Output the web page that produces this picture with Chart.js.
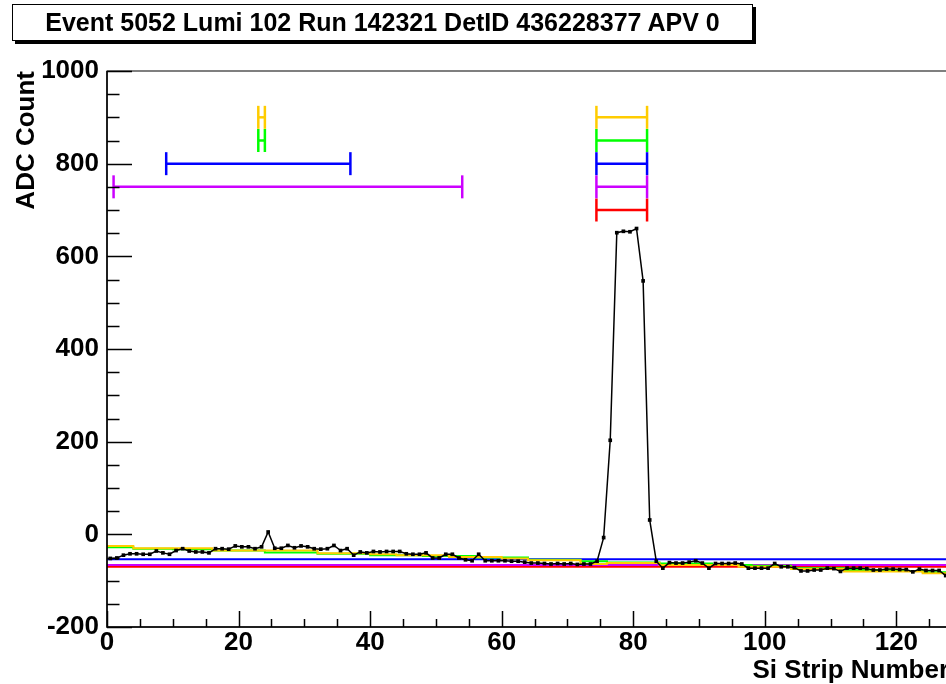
<!DOCTYPE html>
<html>
<head>
<meta charset="utf-8">
<script src="https://cdn.jsdelivr.net/npm/chart.js@4.4.1/dist/chart.umd.min.js"></script>
<style>
  html, body { margin: 0; padding: 0; background: #fff; overflow: hidden; }
  #wrap { position: relative; width: 960px; height: 684px; }
  #title {
    position: absolute; left: 12px; top: 4px; width: 739px; height: 35px;
    border: 1px solid #000; box-shadow: 3px 3px 0 #000; background: #fff;
    font: bold 25px "Liberation Sans", Arial, sans-serif; line-height: 35px;
    text-align: center; white-space: nowrap; z-index: 2;
  }
  canvas { position: absolute; left: 0; top: 0; }
</style>
</head>
<body>
<div id="wrap">
  <div id="title">Event 5052 Lumi 102 Run 142321 DetID 436228377 APV 0</div>
  <canvas id="chart" width="960" height="684"></canvas>
</div>
<script>
// ADC count per strip (strips 0..127)
let adc = [
  -52, -51, -45, -42, -42, -43, -43, -36, -40, -43, -35, -31, -36, -38, -38, -40,
  -31, -31, -32, -25, -27, -27, -31, -27, 5, -30, -30, -24, -29, -25, -27, -31,
  -32, -31, -24, -35, -31, -45, -38, -40, -37, -38, -37, -37, -37, -42, -43, -43,
  -40, -51, -51, -43, -43, -51, -55, -57, -43, -57, -57, -57, -57, -58, -58, -60,
  -62, -62, -63, -64, -63, -64, -63, -65, -64, -64, -58, -7, 203, 651, 654, 653,
  660, 547, 31, -58, -73, -61, -62, -62, -60, -57, -62, -73, -63, -63, -63, -62,
  -64, -73, -73, -73, -73, -63, -70, -70, -72, -79, -79, -77, -77, -73, -74, -80,
  -73, -73, -73, -74, -77, -77, -75, -75, -76, -76, -81, -75, -78, -78, -78, -89
];

// step estimates (strip edges and level per step)
let yellowEdges = [0, 4, 16, 32, 40, 44, 52, 60, 64, 72, 76, 84, 96, 104, 112, 124, 128];
let yellowLevels = [-25, -30, -35, -41, -43, -45, -49, -52, -56, -64, -62, -66, -70, -75, -80, -84];
let greenEdges = [0, 4, 10, 16, 24, 32, 40, 48, 56, 64, 72, 76, 84, 92, 98, 104, 112, 120, 124, 128];
let greenLevels = [-28, -31, -32, -35, -39, -42, -45, -47, -50, -55, -58, -61, -63, -66, -68, -73, -77, -79, -82];

// flat levels
let blueLevel = -54;
let violetLevel = -66;
let redLevel = -70;

// clusters: colour index, strip range, drawn at the level of their colour
let algoColors = ["#ffcc00", "#00ff00", "#0000ff", "#cc00ff", "#ff0000"];
let algoLevels = [900, 850, 800, 750, 700];
let clusterAlgo = [0, 0, 1, 1, 2, 2, 3, 3, 4];
let clusterFrom = [23, 74.4, 23, 74.4, 9, 74.4, 1, 74.4, 74.4];
let clusterTo = [24, 82.1, 24, 82.1, 37, 82.1, 54, 82.1, 82.1];

let xTicks = [0, 20, 40, 60, 80, 100, 120];
let yTicks = [-200, 0, 200, 400, 600, 800, 1000];

const FONT = "'Liberation Sans', Arial, sans-serif";

function stepPoints(edges, levels) {
  return edges.map((e, i) => ({ x: e, y: levels[Math.min(i, levels.length - 1)] }));
}

let datasets = [];

datasets.push({
  data: adc.map((v, i) => ({ x: i + 0.5, y: v })),
  borderColor: "#000",
  backgroundColor: "#000",
  borderWidth: 1.5,
  pointStyle: "rect",
  pointRadius: 2.6,
  pointBorderWidth: 0,
});

datasets.push({
  data: stepPoints(yellowEdges, yellowLevels),
  borderColor: algoColors[0], borderWidth: 2, stepped: true, pointRadius: 0,
});
datasets.push({
  data: stepPoints(greenEdges, greenLevels),
  borderColor: algoColors[1], borderWidth: 2, stepped: true, pointRadius: 0,
});

[[blueLevel, algoColors[2]], [violetLevel, algoColors[3]], [redLevel, algoColors[4]]].forEach(([lvl, c]) => {
  datasets.push({
    data: [{ x: 0, y: lvl }, { x: 128, y: lvl }],
    borderColor: c, borderWidth: 2, pointRadius: 0,
  });
});

clusterAlgo.forEach((a, i) => {
  datasets.push({
    data: [{ x: clusterFrom[i], y: algoLevels[a] }, { x: clusterTo[i], y: algoLevels[a] }],
    borderColor: algoColors[a],
    borderWidth: 2.5,
    pointStyle: "line",
    pointRotation: 90,
    pointRadius: 11.5,
    pointBorderWidth: 2.5,
    pointBorderColor: algoColors[a],
  });
});

// ROOT style frame with inside ticks
const rootFrame = {
  id: "rootFrame",
  afterDraw(chart) {
    const { ctx, chartArea: a, scales: { x, y } } = chart;
    ctx.save();
    ctx.strokeStyle = "#000";
    ctx.lineWidth = 1;
    ctx.strokeRect(a.left, a.top, a.right - a.left, a.bottom - a.top);
    ctx.lineWidth = 1.5;
    ctx.beginPath();
    ctx.moveTo(a.left, a.top);
    ctx.lineTo(a.left, a.bottom);
    ctx.lineTo(a.right, a.bottom);
    for (let v = -200; v <= 1000; v += 50) {
      let py = Math.round(y.getPixelForValue(v)) + 0.5;
      let len = v % 200 === 0 ? 25 : 12.5;
      ctx.moveTo(a.left, py);
      ctx.lineTo(a.left + len, py);
    }
    for (let v = 0; v <= 128; v += 5) {
      let px = Math.round(x.getPixelForValue(v)) + 0.5;
      let len = v % 20 === 0 ? 16 : 8;
      ctx.moveTo(px, a.bottom);
      ctx.lineTo(px, a.bottom - len);
    }
    ctx.stroke();
    ctx.restore();
  },
};

new Chart("chart", {
  type: "line",
  data: { datasets: datasets },
  plugins: [rootFrame],
  options: {
    responsive: false,
    animation: false,
    layout: { autoPadding: false, padding: { top: 71, right: 11, left: 0, bottom: 0 } },
    plugins: { legend: { display: false }, tooltip: { enabled: false } },
    elements: { line: { tension: 0 } },
    scales: {
      x: {
        type: "linear",
        min: 0,
        max: 128,
        afterFit: (s) => { s.height = 57; },
        afterBuildTicks: (s) => { s.ticks = xTicks.map((v) => ({ value: v })); },
        grid: { display: false, drawTicks: false },
        border: { display: false },
        ticks: {
          autoSkip: false,
          maxRotation: 0,
          padding: 3,
          color: "#000",
          font: { family: FONT, size: 26, weight: "bold", lineHeight: 1 },
          callback: (v) => String(v),
        },
        title: {
          display: true,
          text: "Si Strip Number",
          align: "end",
          color: "#000",
          padding: { top: 4, bottom: 0 },
          font: { family: FONT, size: 26, weight: "bold", lineHeight: 1 },
        },
      },
      y: {
        type: "linear",
        min: -200,
        max: 1000,
        afterFit: (s) => { s.width = 107; },
        afterBuildTicks: (s) => { s.ticks = yTicks.map((v) => ({ value: v })); },
        grid: { display: false, drawTicks: false },
        border: { display: false },
        ticks: {
          autoSkip: false,
          padding: 8,
          color: "#000",
          font: { family: FONT, size: 26, weight: "bold", lineHeight: 1 },
          callback: (v) => String(v),
        },
        title: {
          display: true,
          text: "ADC Count",
          align: "end",
          color: "#000",
          padding: { top: 14, bottom: 0 },
          font: { family: FONT, size: 26, weight: "bold", lineHeight: 1 },
        },
      },
    },
  },
});
</script>
</body>
</html>
